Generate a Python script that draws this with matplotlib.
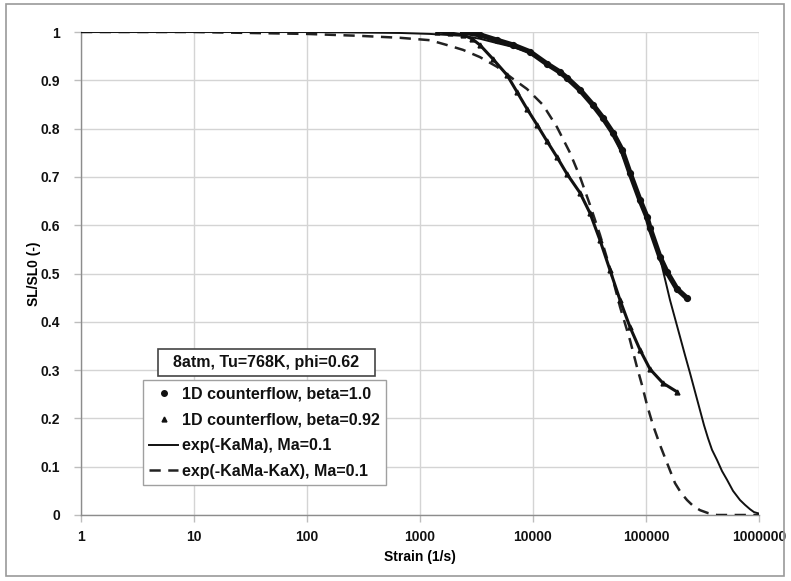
import matplotlib
matplotlib.use("Agg")
import matplotlib.pyplot as plt
from matplotlib.lines import Line2D
from matplotlib.patches import Rectangle

plt.rcParams['font.family'] = ['Liberation Sans', 'DejaVu Sans']

# ---- data ----
beta10_x = [2400, 3400, 4800, 6650, 9400, 13300, 17340, 20000, 26060, 33960, 41650,
            51050, 61330, 72190, 88480, 102000, 108500, 133000, 153400, 188100, 230600]
beta10_y = [1.000, 0.994, 0.983, 0.973, 0.959, 0.934, 0.917, 0.905, 0.880, 0.849, 0.822,
            0.791, 0.756, 0.708, 0.652, 0.617, 0.594, 0.534, 0.503, 0.468, 0.449]

beta092_x = [1414, 1843, 2402, 2886, 3396, 4426, 5888, 7219, 8848, 10850, 13300, 16310,
             20000, 26060, 31940, 39160, 48020, 58880, 72190, 88480, 108500, 141400, 188100]
beta092_y = [1.000, 0.998, 0.994, 0.986, 0.973, 0.944, 0.911, 0.876, 0.841, 0.808, 0.774,
             0.741, 0.706, 0.667, 0.625, 0.569, 0.507, 0.445, 0.389, 0.342, 0.302, 0.273, 0.255]

kama_x = [1, 100, 665, 1226, 2402, 3396, 4802, 6653, 9408, 13300, 20000, 33960, 51050,
          72190, 102000, 133000, 163100, 200000, 221400, 245100, 300500, 326100, 353800,
          383800, 424900, 470600, 521000, 588800, 678900, 751800, 832500, 903100, 1000000]
kama_y = [1.000, 1.000, 0.998, 0.996, 0.992, 0.986, 0.977, 0.969, 0.957, 0.934, 0.905,
          0.849, 0.791, 0.708, 0.617, 0.532, 0.445, 0.369, 0.331, 0.294, 0.217, 0.186,
          0.159, 0.135, 0.114, 0.091, 0.073, 0.050, 0.031, 0.021, 0.012, 0.006, 0.003]

kamakax_x = [1, 10, 31.3, 100, 294.4, 665, 1226, 1734, 2402, 3396, 4802, 6653, 8848,
             12260, 16310, 21250, 26060, 31940, 39160, 48020, 58880, 72190, 83250, 92180,
             102000, 115300, 133000, 153400, 180600, 204000, 230600, 260600, 300500,
             353800, 424900, 678900, 1000000]
kamakax_y = [1.000, 1.000, 0.998, 0.996, 0.992, 0.988, 0.983, 0.973, 0.963, 0.948, 0.928,
             0.903, 0.882, 0.849, 0.803, 0.750, 0.700, 0.642, 0.580, 0.511, 0.431, 0.362,
             0.306, 0.269, 0.228, 0.186, 0.145, 0.108, 0.066, 0.046, 0.031, 0.019, 0.010,
             0.004, 0.000, 0.000, 0.000]

x_ticks = [1, 10, 100, 1000, 10000, 100000, 1000000]
x_ticklabels = ['1', '10', '100', '1000', '10000', '100000', '1000000']
y_ticks = [0, 0.1, 0.2, 0.3, 0.4, 0.5, 0.6, 0.7, 0.8, 0.9, 1]
y_ticklabels = ['0', '0.1', '0.2', '0.3', '0.4', '0.5', '0.6', '0.7', '0.8', '0.9', '1']

labels = ['1D counterflow, beta=1.0', '1D counterflow, beta=0.92',
          'exp(-KaMa), Ma=0.1', 'exp(-KaMa-KaX), Ma=0.1']
box_title = '8atm, Tu=768K, phi=0.62'

# ---- figure ----
W, H = 791, 581
fig = plt.figure(figsize=(W / 100, H / 100), dpi=100)
ax = fig.add_axes([81 / W, 1 - 515 / H, (759 - 81) / W, (515 - 32) / H])

ink = '#111111'
ax.plot(kamakax_x, kamakax_y, color='#222222', lw=1.8, dashes=(4.5, 3), zorder=3)
ax.plot(kama_x, kama_y, color=ink, lw=1.4, zorder=3)
ax.plot(beta092_x, beta092_y, color=ink, lw=2.2, zorder=4)
ax.plot(beta092_x, beta092_y, '^', color=ink, ms=3.5, ls='none', zorder=4)
ax.plot(beta10_x, beta10_y, color=ink, lw=3.8, zorder=5, solid_capstyle='round')
ax.plot(beta10_x, beta10_y, 'o', color=ink, ms=4.2, ls='none', zorder=5)

ax.set_xscale('log')
ax.set_xlim(1, 1e6)
ax.set_ylim(0, 1)
ax.set_xticks(x_ticks)
ax.set_xticklabels(x_ticklabels)
ax.set_yticks(y_ticks)
ax.set_yticklabels(y_ticklabels)
ax.minorticks_off()
ax.grid(True, color='#d4d4d4', lw=1.0)
ax.set_axisbelow(True)
for s in ['top', 'right']:
    ax.spines[s].set_visible(False)
for s in ['left', 'bottom']:
    ax.spines[s].set_color('#8c8c8c')
    ax.spines[s].set_linewidth(1.0)
ax.tick_params(axis='both', which='major', length=5, width=1.0, color='#bdbdbd',
               labelsize=10, pad=6, labelcolor='#111111')
for t in ax.get_xticklabels() + ax.get_yticklabels():
    t.set_fontweight('bold')
ax.tick_params(axis='y', pad=10)

ax.set_xlabel('Strain (1/s)', fontsize=10, fontweight='bold', labelpad=4)
ax.set_ylabel('SL/SL0 (-)', fontsize=10, fontweight='bold', labelpad=0)

handles = [
    Line2D([], [], marker='o', ls='none', color=ink, ms=4),
    Line2D([], [], marker='^', ls='none', color=ink, ms=3.5),
    Line2D([], [], color=ink, lw=1.4),
    Line2D([], [], color='#222222', lw=1.8, dashes=(4.5, 3)),
]
leg = ax.legend(handles, labels, loc='upper left',
                bbox_to_anchor=(143 / W, 1 - 380 / H), bbox_transform=fig.transFigure,
                prop=dict(size=11.5, weight='bold'), frameon=True, fancybox=False,
                framealpha=1, edgecolor='#a0a0a0', borderpad=0.4, labelspacing=0.68,
                handlelength=1.8, handletextpad=0.25, borderaxespad=0, numpoints=1)
leg.get_frame().set_linewidth(1.0)
for t in leg.get_texts():
    t.set_color('#111111')

# title box above the legend
fig.patches.append(Rectangle((158 / W, 1 - 376 / H), (375 - 158) / W, 27 / H,
                             transform=fig.transFigure, fc='white',
                             ec='#444444', lw=1.2, zorder=10))
fig.text(266.5 / W, 1 - 362.5 / H, box_title, ha='center', va='center', fontsize=11.5,
         fontweight='bold', color='#111111', zorder=11)

fig.patches.append(Rectangle((6 / W, 1 - 576 / H), 778 / W, 572 / H,
                             transform=fig.transFigure, fill=False,
                             ec='#9a9a9a', lw=1.2))

fig.savefig('out.png', dpi=100)
